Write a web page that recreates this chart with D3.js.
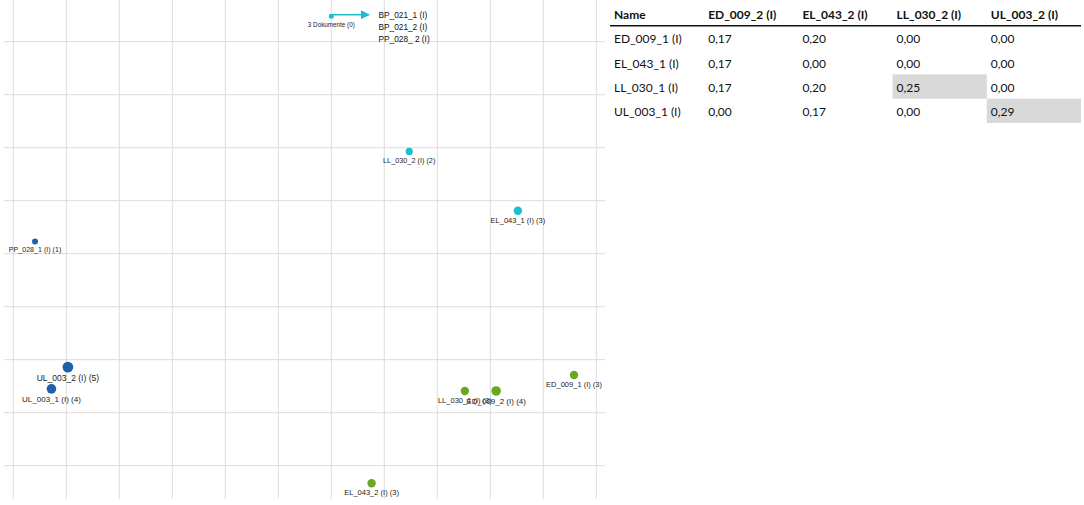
<!DOCTYPE html>
<html>
<head>
<meta charset="utf-8">
<script src="https://cdn.jsdelivr.net/npm/d3@7"></script>
<style>
  html, body { margin: 0; padding: 0; background: #fff; }
  svg { display: block; }
  .grid line { stroke: #dcdcdc; stroke-width: 1; }
  .node-label { font-family: "Liberation Sans", Arial, sans-serif; fill: #222; }
  .doc-list { font-family: "Liberation Sans", Arial, sans-serif; font-size: 8.3px; fill: #111; }
  .tbl text { font-family: Lato, "Open Sans", sans-serif; font-size: 12px; fill: #111; }
  .tbl .head { font-weight: bold; }
</style>
</head>
<body>
<svg id="chart" width="1084" height="505"></svg>
<script>
// ----------------------------------------------------------
// Data
// ----------------------------------------------------------

// map nodes (position in grid units, document count, group)
const nodeNames = [
  '3 Dokumente', 'LL_030_2 (I)', 'EL_043_1 (I)', 'PP_028_1 (I)', 'UL_003_2 (I)',
  'UL_003_1 (I)', 'LL_030_1 (I)', 'ED_009_2 (I)', 'ED_009_1 (I)', 'EL_043_2 (I)'
];
const nodeX = [6.0, 7.47, 9.52, 0.41, 1.03, 0.72, 8.52, 9.11, 10.58, 6.76];
const nodeY = [-0.48, 2.07, 3.19, 3.77, 6.14, 6.55, 6.59, 6.59, 6.29, 8.33];
const nodeCount = [0, 2, 3, 1, 5, 4, 3, 4, 3, 3];
const nodeGroup = ['cyan', 'cyan', 'cyan', 'blue', 'blue', 'blue', 'green', 'green', 'green', 'green'];

// documents hidden behind the "3 Dokumente" node
const stackedDocs = ['BP_021_1 (I)', 'BP_021_2 (I)', 'PP_028_ 2 (I)'];
const arrowEndX = 6.71;

// grid ticks (grid units)
const gridX = d3.range(0, 12);
const gridY = d3.range(0, 9);

// similarity table
const tableCols = ['ED_009_2 (I)', 'EL_043_2 (I)', 'LL_030_2 (I)', 'UL_003_2 (I)'];
const tableRows = ['ED_009_1 (I)', 'EL_043_1 (I)', 'LL_030_1 (I)', 'UL_003_1 (I)'];
const tableValues = [
  [0.17, 0.20, 0.00, 0.00],
  [0.17, 0.00, 0.00, 0.00],
  [0.17, 0.20, 0.25, 0.00],
  [0.00, 0.17, 0.00, 0.29]
];
const highlightCells = [[2, 2], [3, 3]];

const COLORS = { cyan: '#1cbdd0', blue: '#1f60ab', green: '#6aa823' };

// ----------------------------------------------------------
// Map
// ----------------------------------------------------------

const svg = d3.select('#chart');

const x = d3.scaleLinear().domain([0, 11]).range([13.3, 596.3]);
const y = d3.scaleLinear().domain([0, 8]).range([41.7, 465.7]);
const r = d3.scaleLinear().domain([0, 1, 5]).range([2.5, 3, 5.4]);
const fs = d3.scaleLinear().domain([0, 1, 3, 5]).range([6.3, 7.1, 7.5, 8.5]);

const grid = svg.append('g').attr('class', 'grid');
grid.selectAll('.gx').data(gridX).enter().append('line')
  .attr('x1', (d) => x(d)).attr('x2', (d) => x(d))
  .attr('y1', 0).attr('y2', 499);
grid.selectAll('.gy').data(gridY).enter().append('line')
  .attr('x1', 4).attr('x2', 605)
  .attr('y1', (d) => y(d)).attr('y2', (d) => y(d));

// arrow from the stacked-documents node
svg.append('defs').append('marker')
  .attr('id', 'arrow')
  .attr('viewBox', '0 0 10 10')
  .attr('refX', 9).attr('refY', 5)
  .attr('markerWidth', 6).attr('markerHeight', 6)
  .attr('markerUnits', 'strokeWidth')
  .attr('orient', 'auto')
  .append('path')
  .attr('d', 'M0,0 L10,5 L0,10 z')
  .attr('fill', COLORS.cyan);

svg.append('line')
  .attr('x1', x(nodeX[0])).attr('y1', y(nodeY[0]) - 1.5)
  .attr('x2', x(arrowEndX)).attr('y2', y(nodeY[0]) - 1.5)
  .attr('stroke', COLORS.cyan).attr('stroke-width', 1.5)
  .attr('marker-end', 'url(#arrow)');

svg.append('g').selectAll('text').data(stackedDocs).enter().append('text')
  .attr('class', 'doc-list')
  .attr('x', x(6.89))
  .attr('y', (d, i) => y(nodeY[0]) - 1 + i * 11.7)
  .attr('dominant-baseline', 'central')
  .text((d) => d);

const nodes = nodeNames.map((name, i) => ({
  name, x: nodeX[i], y: nodeY[i], n: nodeCount[i], group: nodeGroup[i]
}));

const g = svg.append('g').selectAll('g').data(nodes).enter().append('g');

g.append('circle')
  .attr('cx', (d) => x(d.x))
  .attr('cy', (d) => y(d.y))
  .attr('r', (d) => r(d.n))
  .attr('fill', (d) => COLORS[d.group]);

g.append('text')
  .attr('class', 'node-label')
  .attr('x', (d) => x(d.x))
  .attr('y', (d) => y(d.y) + r(d.n) + 5.5)
  .attr('text-anchor', 'middle')
  .attr('dominant-baseline', 'central')
  .style('font-size', (d) => fs(d.n) + 'px')
  .text((d) => d.name + ' (' + d.n + ')');

// ----------------------------------------------------------
// Table
// ----------------------------------------------------------

const colBand = d3.scaleBand().domain(['Name'].concat(tableCols)).range([610, 1081]);
const rowBand = d3.scaleBand().domain(tableRows).range([25.7, 123]);

const tbl = svg.append('g').attr('class', 'tbl');

tbl.selectAll('rect.hl').data(highlightCells).enter().append('rect')
  .attr('x', (d) => colBand(tableCols[d[1]]))
  .attr('y', (d) => rowBand(tableRows[d[0]]))
  .attr('width', colBand.bandwidth())
  .attr('height', rowBand.bandwidth())
  .attr('fill', '#d9d9d9');

tbl.selectAll('text.head').data(colBand.domain()).enter().append('text')
  .attr('class', 'head')
  .attr('x', (d) => colBand(d) + 4)
  .attr('y', 14)
  .attr('dominant-baseline', 'central')
  .text((d) => d);

tbl.append('line')
  .attr('x1', 610).attr('x2', 1081)
  .attr('y1', 25.7).attr('y2', 25.7)
  .attr('stroke', '#111').attr('stroke-width', 1.5);

tableRows.forEach((row, i) => {
  const cy = rowBand(row) + rowBand.bandwidth() / 2 + 1;
  tbl.append('text')
    .attr('x', colBand('Name') + 4).attr('y', cy)
    .attr('dominant-baseline', 'central')
    .text(row);
  tbl.selectAll('text.v' + i).data(tableValues[i]).enter().append('text')
    .attr('x', (d, j) => colBand(tableCols[j]) + 4)
    .attr('y', cy)
    .attr('dominant-baseline', 'central')
    .text((d) => d.toFixed(2).replace('.', ','));
});
</script>
</body>
</html>
